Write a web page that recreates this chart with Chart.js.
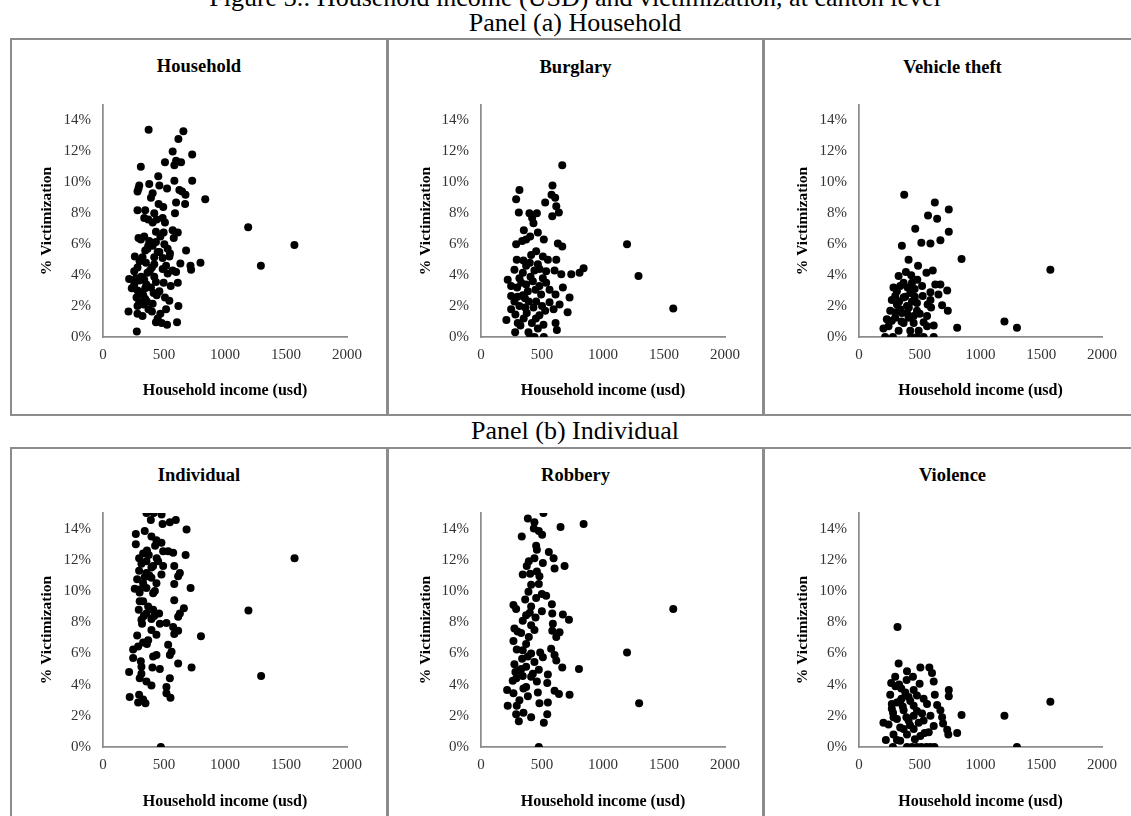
<!DOCTYPE html>
<html lang="en">
<head>
<meta charset="UTF-8">
<title>Household income and victimization</title>
<script src="https://cdn.jsdelivr.net/npm/chart.js"></script>
<style>
    html, body { margin: 0; padding: 0; background: #fff; }
    .page {
        position: relative;
        width: 1131px;
        height: 816px;
        overflow: hidden;
        font-family: 'Liberation Serif', 'Times New Roman', serif;
        color: #000;
    }
    .line { position: absolute; background: #8c8c8c; }
    .heading {
        position: absolute;
        left: 0;
        width: 1150px;
        text-align: center;
        font-size: 26px;
        line-height: 30px;
        white-space: nowrap;
    }
    .ctitle {
        position: absolute;
        text-align: center;
        font-size: 18.5px;
        line-height: 22px;
        font-weight: bold;
    }
    canvas { position: absolute; }
</style>
</head>
<body>
<div class="page">
    <div class="heading" style="top:-17px;">Figure 3.: Household income (USD) and victimization, at canton level</div>
    <div class="heading" style="top:8px;">Panel (a) Household</div>
    <div class="heading" style="top:416px;">Panel (b) Individual</div>

    <!-- table lines -->
    <div class="line" style="left:10px; top:38px; width:1121px; height:2px;"></div>
    <div class="line" style="left:10px; top:414px; width:1121px; height:2px;"></div>
    <div class="line" style="left:10px; top:447px; width:1121px; height:2px;"></div>
    <div class="line" style="left:10px; top:38px; width:2px; height:378px;"></div>
    <div class="line" style="left:386px; top:38px; width:3px; height:378px;"></div>
    <div class="line" style="left:762px; top:38px; width:3px; height:378px;"></div>
    <div class="line" style="left:10px; top:447px; width:2px; height:369px;"></div>
    <div class="line" style="left:386px; top:447px; width:3px; height:369px;"></div>
    <div class="line" style="left:762px; top:447px; width:3px; height:369px;"></div>

    <div class="ctitle" style="left:12px; width:374px; top:55px;">Household</div>
    <div class="ctitle" style="left:389px; width:373px; top:56px;">Burglary</div>
    <div class="ctitle" style="left:765px; width:375px; top:56px;">Vehicle theft</div>
    <div class="ctitle" style="left:12px; width:374px; top:464px;">Individual</div>
    <div class="ctitle" style="left:389px; width:373px; top:464px;">Robbery</div>
    <div class="ctitle" style="left:765px; width:375px; top:464px;">Violence</div>

    <canvas id="household" width="374" height="374" style="left:12px; top:40px;"></canvas>
    <canvas id="burglary" width="373" height="374" style="left:389px; top:40px;"></canvas>
    <canvas id="vehicle" width="366" height="374" style="left:765px; top:40px;"></canvas>
    <canvas id="individual" width="374" height="367" style="left:12px; top:449px;"></canvas>
    <canvas id="robbery" width="373" height="367" style="left:389px; top:449px;"></canvas>
    <canvas id="violence" width="366" height="367" style="left:765px; top:449px;"></canvas>
</div>

<script>
// axis ticks
var xTicks = [0, 500, 1000, 1500, 2000];
var yTicks = [0, 2, 4, 6, 8, 10, 12, 14];

// [household income (usd), % victimization] per canton
var householdPts = [
    [374,13.4],[659,13.3],[618,12.8],[571,12.0],[731,11.8],[640,11.3],[599,11.4],[508,11.3],[585,11.1],[310,11.0],
    [731,10.1],[453,10.4],[585,10.1],[297,9.8],[379,9.9],[462,9.8],[291,9.6],[525,9.6],[626,9.5],[283,9.4],
    [407,9.3],[648,9.4],[676,9.2],[393,9.0],[838,8.9],[599,8.7],[673,8.6],[456,8.6],[494,8.4],[283,8.2],
    [346,8.2],[420,8.0],[590,8.0],[338,7.7],[371,7.6],[489,7.7],[407,7.4],[508,7.4],[1190,7.1],[434,6.8],
    [571,6.9],[497,6.75],[613,6.75],[470,6.5],[580,6.4],[338,6.5],[291,6.4],[379,6.2],[434,6.15],[407,5.9],
    [365,5.7],[503,6.0],[530,5.7],[1569,5.95],[681,5.6],[462,5.5],[549,5.4],[261,5.2],[324,5.15],[420,5.15],
    [489,5.1],[544,5.2],[799,4.8],[634,4.75],[352,4.8],[1294,4.6],[717,4.6],[722,4.35],[283,4.5],[401,4.5],
    [489,4.4],[599,4.2],[530,4.1],[256,4.25],[365,4.15],[420,3.9],[214,3.75],[297,3.65],[338,3.7],[434,3.55],
    [256,3.4],[497,3.5],[613,3.5],[555,3.3],[236,3.15],[346,3.15],[283,3.0],[415,2.85],[330,2.7],[440,2.7],
    [275,2.55],[508,2.55],[346,2.45],[544,2.35],[297,2.25],[407,2.15],[332,2.1],[618,2.0],[283,2.0],[373,1.8],
    [517,1.8],[209,1.65],[401,1.65],[283,1.5],[324,1.35],[470,1.5],[448,1.2],[434,0.95],[481,0.9],[607,0.95],
    [525,0.8],[277,0.35],[371,5.9],[448,5.5],[517,4.6],[346,5.6],[313,3.9],[393,3.2],[462,2.95],[571,4.3],
    [300,4.9],[385,4.3],[355,3.4],[390,6.1],[310,6.3],[440,7.6],[300,2.9],[360,2.3],[420,4.7],[270,3.8]
];
var burglaryPts = [
    [666,11.1],[586,9.8],[315,9.5],[578,9.2],[608,9.0],[288,8.9],[526,8.7],[617,8.45],[310,8.05],[397,8.0],
    [458,8.0],[638,8.05],[584,7.8],[419,7.7],[430,7.35],[351,6.9],[466,6.75],[403,6.5],[370,6.3],[515,6.3],
    [288,6.0],[337,6.2],[1197,6.0],[630,6.05],[666,5.85],[452,5.55],[411,5.3],[507,5.2],[293,5.0],[348,4.95],
    [548,5.0],[617,5.0],[370,4.6],[466,4.7],[841,4.45],[808,4.15],[740,4.05],[1291,3.95],[274,4.35],[438,4.3],
    [603,4.3],[658,4.05],[219,3.7],[315,3.8],[406,3.9],[507,3.8],[534,3.5],[370,3.4],[671,3.2],[296,3.2],
    [447,3.05],[247,2.65],[343,2.7],[493,2.75],[611,2.75],[726,2.55],[274,2.3],[392,2.3],[562,2.25],[644,2.1],
    [1576,1.85],[315,2.0],[430,1.9],[526,1.7],[595,1.8],[710,1.6],[282,1.45],[375,1.55],[479,1.4],[208,1.1],
    [301,0.9],[417,0.9],[512,0.8],[611,0.9],[323,0.75],[622,0.45],[280,0.3],[389,0.3],[403,0.0],[438,0.0],
    [515,0.0],[466,0.55],[343,4.15],[425,3.6],[479,3.3],[384,2.95],[247,3.3],[534,4.25],[452,2.3],[362,1.9],
    [247,1.8],[562,3.05],[330,3.5],[360,2.5],[400,4.8],[480,4.4],[350,1.2],[450,1.2],[500,2.0],[300,2.6]
];
var vehiclePts = [
    [372,9.2],[624,8.7],[739,8.25],[568,7.85],[643,7.65],[463,7.0],[739,6.8],[670,6.25],[513,6.1],[588,6.05],
    [353,5.9],[844,5.05],[408,5.0],[486,4.6],[1575,4.35],[607,4.3],[386,4.2],[555,4.15],[430,4.0],[480,3.7],
    [628,3.4],[670,3.4],[339,3.3],[284,3.2],[400,3.2],[458,3.1],[726,3.0],[588,2.9],[654,2.75],[298,2.65],
    [367,2.55],[524,2.65],[436,2.3],[565,2.1],[684,2.05],[312,2.1],[395,2.0],[593,1.9],[257,1.7],[731,1.7],
    [477,1.7],[353,1.55],[560,1.35],[408,1.25],[1197,1.0],[270,1.05],[532,0.95],[450,0.9],[615,0.75],[808,0.6],
    [1300,0.6],[201,0.55],[243,0.7],[326,0.4],[491,0.4],[215,0.0],[279,0.0],[428,0.0],[477,0.0],[532,0.0],
    [615,0.0],[422,0.4],[312,2.95],[367,3.5],[422,2.85],[270,2.4],[477,2.2],[339,1.8],[395,1.55],[588,2.4],
    [450,1.35],[298,1.25],[229,1.15],[367,0.9],[560,0.7],[519,3.3],[326,3.95],[436,3.5],[380,2.6],[350,1.0],
    [410,1.9],[300,1.6],[500,1.5],[460,2.6],[330,2.3]
];
var individualPts = [
    [356,15.0],[416,15.0],[480,14.9],[597,14.55],[392,14.55],[548,14.4],[488,14.3],[685,13.95],[342,13.85],[269,13.65],
    [397,13.5],[438,13.25],[479,13.1],[269,13.0],[427,12.9],[493,12.55],[534,12.55],[575,12.45],[329,12.4],[375,12.3],
    [677,12.3],[1570,12.1],[296,12.1],[356,11.9],[452,11.9],[411,11.6],[315,11.75],[493,11.6],[584,11.6],[397,11.5],
    [296,11.3],[356,11.15],[479,11.05],[630,11.15],[616,10.95],[280,10.75],[397,10.85],[329,10.5],[438,10.5],[584,10.45],
    [260,10.15],[356,10.2],[718,10.2],[411,9.85],[301,10.1],[584,9.4],[329,9.35],[293,8.8],[370,9.0],[663,8.9],
    [1192,8.75],[411,8.8],[460,8.55],[630,8.55],[334,8.4],[397,8.2],[616,8.35],[520,7.95],[466,7.9],[315,8.15],
    [575,7.7],[397,7.5],[616,7.45],[584,7.25],[438,7.2],[280,7.15],[803,7.1],[370,6.85],[329,6.7],[288,6.45],
    [247,6.25],[534,6.55],[562,6.1],[548,5.9],[438,5.9],[411,5.8],[247,5.7],[310,5.5],[616,5.35],[315,5.15],
    [726,5.1],[405,5.1],[466,5.0],[214,4.8],[315,4.7],[1296,4.55],[301,4.4],[548,4.4],[356,4.2],[397,3.95],
    [520,3.85],[520,3.45],[296,3.35],[219,3.2],[553,3.15],[329,3.05],[288,2.85],[348,2.8],[474,0.0],[342,10.9],
    [425,10.0],[301,9.35],[356,8.55],[380,11.0],[440,12.1],[320,7.9],[360,6.6],[300,9.9],[420,8.4],[360,12.6]
];
var robberyPts = [
    [512,15.0],[384,14.65],[438,14.4],[841,14.3],[652,14.1],[433,14.0],[474,13.85],[501,13.6],[334,13.5],[452,12.9],
    [458,12.65],[556,12.5],[595,12.1],[438,12.1],[392,11.9],[507,11.8],[685,11.6],[603,11.45],[375,11.6],[458,11.25],
    [342,11.05],[403,11.1],[479,10.95],[474,10.45],[411,10.4],[389,9.95],[499,9.8],[534,9.7],[452,9.55],[362,9.45],
    [581,9.15],[266,9.1],[411,9.0],[288,8.85],[1576,8.85],[499,8.7],[584,8.55],[671,8.5],[370,8.45],[447,8.3],
    [721,8.15],[342,8.1],[589,7.9],[411,7.8],[274,7.6],[438,7.5],[584,7.45],[644,7.35],[329,7.3],[617,7.05],
    [392,7.05],[266,6.8],[370,6.6],[575,6.3],[293,6.25],[1197,6.05],[485,6.05],[411,6.0],[603,5.9],[337,5.65],
    [617,5.55],[438,5.45],[274,5.3],[370,5.15],[666,5.1],[803,5.0],[474,4.95],[282,4.8],[342,4.55],[548,4.65],
    [411,4.5],[260,4.25],[458,4.2],[543,4.1],[348,3.75],[214,3.65],[603,3.6],[639,3.4],[726,3.35],[266,3.45],
    [384,3.25],[315,3.0],[1296,2.8],[479,2.8],[548,2.85],[219,2.65],[293,2.65],[348,2.2],[288,2.1],[543,2.1],
    [411,1.9],[310,1.65],[515,1.55],[474,0.0],[342,6.2],[384,5.8],[425,4.7],[315,4.9],[507,5.75],[370,3.85],
    [466,3.5],[300,7.4],[400,8.6],[330,5.0],[290,4.4]
];
var violencePts = [
    [317,7.7],[326,5.35],[505,5.1],[579,5.1],[395,4.85],[601,4.75],[298,4.5],[444,4.5],[392,4.3],[615,4.2],
    [265,4.1],[499,4.05],[739,3.65],[348,3.75],[450,3.65],[257,3.35],[624,3.35],[739,3.25],[408,3.2],[532,3.1],
    [1575,2.9],[312,2.85],[643,2.7],[450,2.65],[270,2.45],[670,2.35],[367,2.35],[844,2.05],[1197,2.0],[519,2.15],
    [588,2.0],[684,1.9],[201,1.55],[243,1.45],[312,1.8],[408,1.7],[491,1.55],[692,1.5],[615,1.35],[339,1.25],
    [726,1.1],[450,1.15],[735,0.8],[808,0.9],[574,0.95],[284,0.8],[395,0.8],[505,0.7],[221,0.45],[312,0.45],
    [279,0.0],[395,0.0],[436,0.0],[477,0.0],[513,0.0],[555,0.0],[588,0.0],[621,0.0],[1300,0.0],[270,2.75],
    [339,2.95],[422,2.95],[477,2.3],[284,1.9],[367,1.15],[450,2.0],[532,1.7],[339,0.4],[560,2.75],[381,3.5],
    [477,3.3],[300,3.9],[360,2.6],[420,1.4],[540,0.9],[330,4.0],[280,2.2],[460,0.5],[390,1.9],[350,3.1]
];

var serif = "'Liberation Serif', 'Times New Roman', serif";
var axisGrey = '#8c8c8c';

// per column: y axis width, right padding, y title offset
var cols = [
    { yWidth: 91, padRight: 39, yTitlePad: 26 },
    { yWidth: 92, padRight: 37, yTitlePad: 28 },
    { yWidth: 94, padRight: 29, yTitlePad: 29 }
];
// per row: top padding, x axis height, x title bottom padding
var rows = [
    { padTop: 65, xHeight: 77, xTitlePad: 14 },
    { padTop: 64, xHeight: 69, xTitlePad: 5 }
];

function makeChart(id, pts, col, row) {
    var c = cols[col], r = rows[row];
    new Chart(document.getElementById(id), {
        type: 'scatter',
        data: {
            datasets: [{
                data: pts.map(function (p) { return { x: p[0], y: p[1] }; }),
                backgroundColor: '#000',
                borderColor: '#000',
                borderWidth: 0,
                pointRadius: 4,
                pointHoverRadius: 4
            }]
        },
        options: {
            responsive: false,
            animation: false,
            events: [],
            layout: { padding: { top: r.padTop, right: c.padRight, bottom: 0, left: 0 } },
            plugins: {
                legend: { display: false },
                tooltip: { enabled: false }
            },
            scales: {
                x: {
                    type: 'linear',
                    min: 0,
                    max: 2000,
                    grid: { display: false, drawTicks: false },
                    border: { display: true, color: axisGrey, width: 1.75 },
                    afterBuildTicks: function (s) { s.ticks = xTicks.map(function (v) { return { value: v }; }); },
                    afterFit: function (s) { s.height = r.xHeight; },
                    ticks: {
                        padding: 9,
                        color: '#333',
                        autoSkip: false,
                        maxRotation: 0,
                        font: { family: serif, size: 15 },
                        callback: function (v) { return String(v); }
                    },
                    title: {
                        display: true,
                        text: 'Household income (usd)',
                        color: '#000',
                        font: { family: serif, size: 16, weight: 'bold' },
                        padding: { top: 0, bottom: r.xTitlePad }
                    }
                },
                y: {
                    type: 'linear',
                    min: 0,
                    max: 15,
                    grid: { display: false, drawTicks: false },
                    border: { display: true, color: axisGrey, width: 1.75 },
                    afterBuildTicks: function (s) { s.ticks = yTicks.map(function (v) { return { value: v }; }); },
                    afterFit: function (s) { s.width = c.yWidth; },
                    ticks: {
                        padding: 12,
                        color: '#333',
                        autoSkip: false,
                        font: { family: serif, size: 15 },
                        callback: function (v) { return v + '%'; }
                    },
                    title: {
                        display: true,
                        text: '% Victimization',
                        color: '#000',
                        font: { family: serif, size: 15.5, weight: 'bold' },
                        padding: { top: c.yTitlePad, bottom: 0 }
                    }
                }
            }
        }
    });
}

makeChart('household', householdPts, 0, 0);
makeChart('burglary', burglaryPts, 1, 0);
makeChart('vehicle', vehiclePts, 2, 0);
makeChart('individual', individualPts, 0, 1);
makeChart('robbery', robberyPts, 1, 1);
makeChart('violence', violencePts, 2, 1);
</script>
</body>
</html>
